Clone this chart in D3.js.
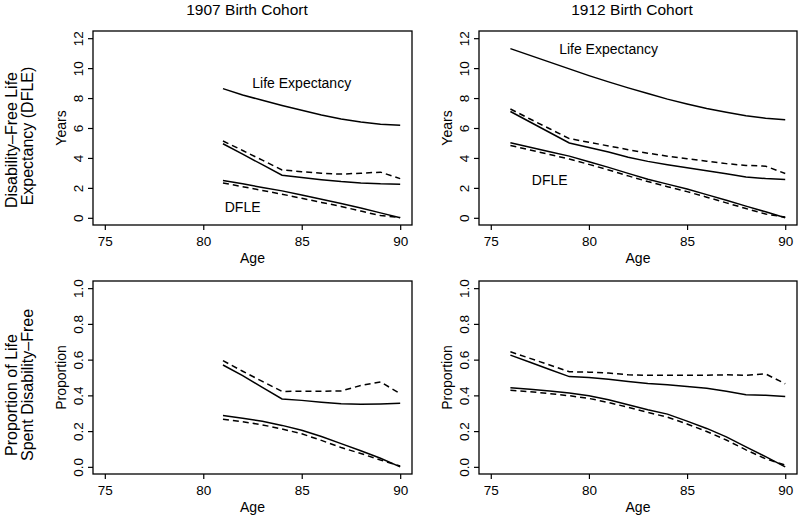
<!DOCTYPE html>
<html>
<head>
<meta charset="utf-8">
<script src="https://cdn.jsdelivr.net/npm/d3@7"></script>
<style>
  html, body { margin: 0; padding: 0; background: #fff; }
  text { font-family: "Liberation Sans", Arial, Helvetica, sans-serif; fill: #000; }
</style>
</head>
<body>
<svg id="chart" width="800" height="519"></svg>
<script>
// ---------- DATA ----------
const ages1907 = [81, 82, 83, 84, 85, 86, 87, 88, 89, 90];
const ages1912 = [76, 77, 78, 79, 80, 81, 82, 83, 84, 85, 86, 87, 88, 89, 90];

// 1907 cohort, years
const le1907      = [8.63, 8.2, 7.85, 7.5, 7.18, 6.87, 6.6, 6.4, 6.25, 6.18];
const upSolid1907 = [4.95, 4.25, 3.55, 2.85, 2.7, 2.55, 2.42, 2.32, 2.27, 2.25];
const upDash1907  = [5.13, 4.5, 3.85, 3.2, 3.08, 2.98, 2.92, 2.98, 3.05, 2.62];
const dfle1907    = [2.5, 2.27, 2.03, 1.8, 1.52, 1.24, 0.96, 0.65, 0.33, 0.0];
const dfleDash1907= [2.33, 2.08, 1.83, 1.58, 1.3, 1.03, 0.76, 0.45, 0.15, 0.02];

// 1912 cohort, years
const le1912      = [11.3, 10.85, 10.4, 9.95, 9.5, 9.08, 8.68, 8.3, 7.93, 7.6, 7.3, 7.05, 6.82, 6.65, 6.55];
const upSolid1912 = [7.1, 6.4, 5.7, 5.0, 4.7, 4.4, 4.05, 3.77, 3.55, 3.35, 3.15, 2.95, 2.72, 2.62, 2.56];
const upDash1912  = [7.27, 6.6, 5.95, 5.29, 5.05, 4.8, 4.55, 4.32, 4.12, 3.95, 3.78, 3.62, 3.5, 3.45, 2.96];
const dfle1912    = [5.02, 4.72, 4.42, 4.12, 3.75, 3.37, 2.97, 2.58, 2.25, 1.92, 1.55, 1.17, 0.78, 0.4, 0.0];
const dfleDash1912= [4.83, 4.53, 4.23, 3.93, 3.57, 3.2, 2.8, 2.42, 2.08, 1.75, 1.38, 1.0, 0.62, 0.25, 0.05];

// 1907 cohort, proportions
const pUpSolid1907 = [0.57, 0.51, 0.445, 0.38, 0.372, 0.362, 0.353, 0.35, 0.352, 0.356];
const pUpDash1907  = [0.594, 0.535, 0.478, 0.422, 0.423, 0.423, 0.425, 0.455, 0.475, 0.41];
const pLoSolid1907 = [0.287, 0.272, 0.255, 0.232, 0.205, 0.17, 0.13, 0.09, 0.048, 0.0];
const pLoDash1907  = [0.267, 0.252, 0.235, 0.212, 0.185, 0.148, 0.108, 0.075, 0.038, 0.005];

// 1912 cohort, proportions
const pUpSolid1912 = [0.625, 0.585, 0.545, 0.505, 0.5, 0.49, 0.478, 0.467, 0.46, 0.45, 0.44, 0.423, 0.403, 0.4, 0.393];
const pUpDash1912  = [0.644, 0.607, 0.57, 0.532, 0.53, 0.525, 0.515, 0.512, 0.513, 0.513, 0.513, 0.515, 0.512, 0.52, 0.465];
const pLoSolid1912 = [0.443, 0.434, 0.424, 0.413, 0.398, 0.376, 0.348, 0.32, 0.295, 0.256, 0.215, 0.168, 0.112, 0.057, 0.0];
const pLoDash1912  = [0.428, 0.42, 0.41, 0.398, 0.383, 0.36, 0.333, 0.305, 0.278, 0.24, 0.198, 0.15, 0.095, 0.045, 0.01];

// tick labels
const xTicks = [75, 80, 85, 90];
const yTicksYears = [0, 2, 4, 6, 8, 10, 12];
const yTicksProp = [0.0, 0.2, 0.4, 0.6, 0.8, 1.0];

// titles / labels
const colTitles = ["1907 Birth Cohort", "1912 Birth Cohort"];
const rowLabelsTop = ["Disability\u2013Free Life", "Expectancy (DFLE)"];
const rowLabelsBottom = ["Proportion of Life", "Spent Disability\u2013Free"];

// annotations: [age, value, text]
const notes1907 = [[85, 9.0, "Life Expectancy"], [82, 0.7, "DFLE"]];
const notes1912 = [[81, 11.3, "Life Expectancy"], [78, 2.5, "DFLE"]];

// ---------- DRAW ----------
const svg = d3.select("#chart");

const cols = [{left: 93, right: 412}, {left: 479, right: 797}];
const rows = [{top: 31, bottom: 225}, {top: 281, bottom: 474}];

function panel(col, row, yDomain, yTicks, yFmt, yLabel, ages, series, notes) {
  const c = cols[col], r = rows[row];
  const x = d3.scaleLinear().domain([74.4, 90.6]).range([c.left, c.right]);
  const y = d3.scaleLinear().domain(yDomain).range([r.bottom, r.top]);
  const g = svg.append("g");

  // x axis
  const xa = g.append("g").attr("transform", `translate(0,${r.bottom})`)
    .call(d3.axisBottom(x).tickValues(xTicks).tickSize(5).tickFormat(d3.format("d")));
  xa.select(".domain").remove();
  xa.selectAll("line").attr("stroke", "#000").attr("stroke-width", 1.2);
  xa.selectAll("text").attr("y", 21).attr("dy", 0).attr("font-size", 13.5)
    .attr("font-family", "Liberation Sans, Arial, sans-serif").attr("fill", "#000");

  // y axis
  const ya = g.append("g").attr("transform", `translate(${c.left},0)`)
    .call(d3.axisLeft(y).tickValues(yTicks).tickSize(5).tickFormat(yFmt));
  ya.select(".domain").remove();
  ya.selectAll("line").attr("stroke", "#000").attr("stroke-width", 1.2);
  ya.selectAll("text").attr("transform", "rotate(-90)").attr("x", 0).attr("y", -10)
    .attr("dy", 0).attr("text-anchor", "middle").attr("font-size", 13.5)
    .attr("font-family", "Liberation Sans, Arial, sans-serif").attr("fill", "#000");

  // box
  g.append("rect").attr("x", c.left).attr("y", r.top)
    .attr("width", c.right - c.left).attr("height", r.bottom - r.top)
    .attr("fill", "none").attr("stroke", "#000").attr("stroke-width", 1.3);

  // axis labels
  g.append("text").attr("x", (c.left + c.right) / 2).attr("y", r.bottom + 38)
    .attr("text-anchor", "middle").attr("font-size", 14).text("Age");
  g.append("text")
    .attr("transform", `translate(${c.left - 27},${(r.top + r.bottom) / 2}) rotate(-90)`)
    .attr("text-anchor", "middle").attr("font-size", 14).text(yLabel);

  // lines
  const line = d3.line().x((d, i) => x(ages[i])).y(d => y(d));
  series.forEach(s => {
    g.append("path").datum(s.values).attr("d", line)
      .attr("fill", "none").attr("stroke", "#000").attr("stroke-width", 1.5)
      .attr("stroke-dasharray", s.dashed ? "6,4" : null);
  });

  // notes
  (notes || []).forEach(n => {
    g.append("text").attr("x", x(n[0])).attr("y", y(n[1])).attr("dy", "0.35em")
      .attr("text-anchor", "middle").attr("font-size", 14).text(n[2]);
  });
}

const fmtYears = d3.format("d");
const fmtProp = d3.format(".1f");

panel(0, 0, [-0.48, 12.48], yTicksYears, fmtYears, "Years", ages1907, [
  {values: le1907, dashed: false},
  {values: upSolid1907, dashed: false},
  {values: upDash1907, dashed: true},
  {values: dfle1907, dashed: false},
  {values: dfleDash1907, dashed: true}
], notes1907);

panel(1, 0, [-0.48, 12.48], yTicksYears, fmtYears, "Years", ages1912, [
  {values: le1912, dashed: false},
  {values: upSolid1912, dashed: false},
  {values: upDash1912, dashed: true},
  {values: dfle1912, dashed: false},
  {values: dfleDash1912, dashed: true}
], notes1912);

panel(0, 1, [-0.04, 1.04], yTicksProp, fmtProp, "Proportion", ages1907, [
  {values: pUpSolid1907, dashed: false},
  {values: pUpDash1907, dashed: true},
  {values: pLoSolid1907, dashed: false},
  {values: pLoDash1907, dashed: true}
], []);

panel(1, 1, [-0.04, 1.04], yTicksProp, fmtProp, "Proportion", ages1912, [
  {values: pUpSolid1912, dashed: false},
  {values: pUpDash1912, dashed: true},
  {values: pLoSolid1912, dashed: false},
  {values: pLoDash1912, dashed: true}
], []);

// column titles
[247, 632].forEach((cx, i) => {
  svg.append("text").attr("x", cx).attr("y", 15).attr("text-anchor", "middle")
    .attr("font-size", 15.5).text(colTitles[i]);
});

// row labels
function rowLabel(lines, centers, xs) {
  lines.forEach((t, i) => {
    svg.append("text")
      .attr("transform", `translate(${xs[i]},${centers[i]}) rotate(-90)`)
      .attr("text-anchor", "middle").attr("font-size", 16).text(t);
  });
}
rowLabel(rowLabelsTop, [140, 136], [17, 33]);
rowLabel(rowLabelsBottom, [395, 385], [17, 33]);
</script>
</body>
</html>
